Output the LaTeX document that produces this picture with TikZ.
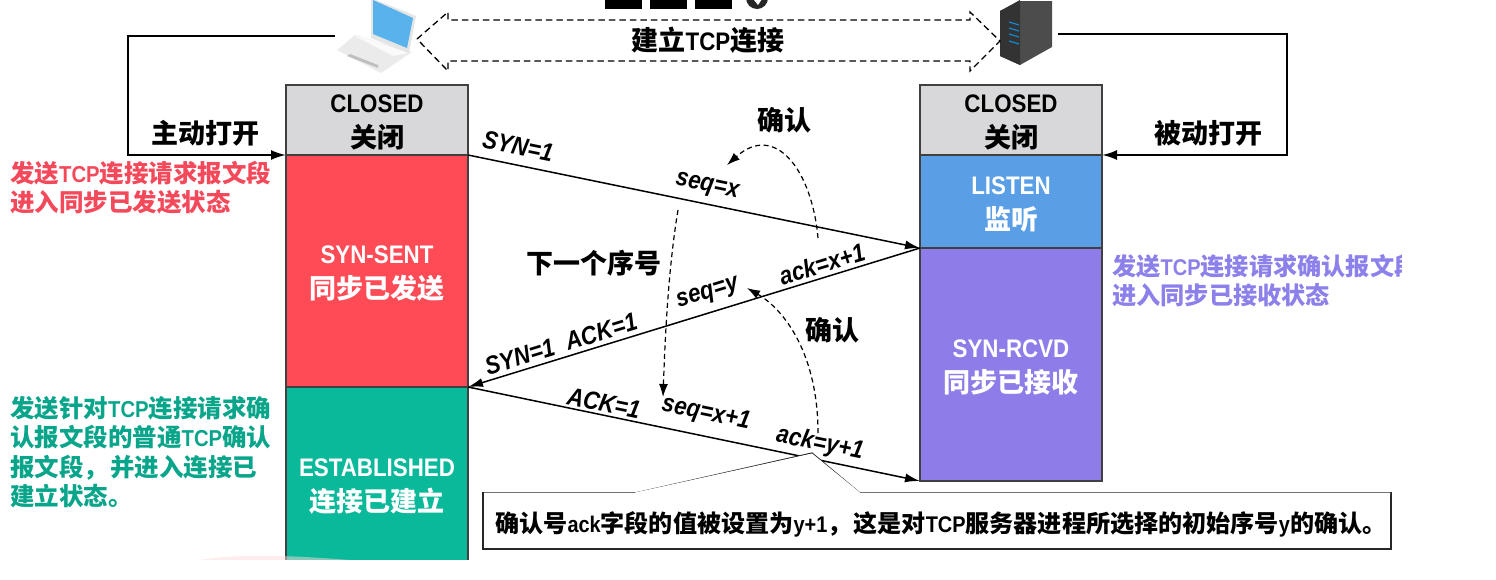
\documentclass[tikz,border=0pt]{standalone}
\usepackage{fontspec}
\setmainfont{Noto Sans CJK SC}
\newfontfamily\latfont[Scale=0.94,FakeStretch=0.88]{Liberation Sans}
\usetikzlibrary{arrows.meta,positioning,calc}
\definecolor{closedgray}{HTML}{D8D8DA}
\definecolor{sentred}{HTML}{FF4B55}
\definecolor{estgreen}{HTML}{0AB89A}
\definecolor{listenblue}{HTML}{5A9FE6}
\definecolor{rcvdpurple}{HTML}{8E7CE8}
\definecolor{notepurple}{HTML}{8C80EA}
\definecolor{notered}{HTML}{F4495A}
\definecolor{screenblue}{HTML}{58B2EC}
\newcommand{\lat}[1]{{\latfont\bfseries #1}}
\tikzset{
  statebox/.style={draw=black!75,line width=1.2pt,minimum width=182pt,inner sep=0pt,outer sep=0pt,align=center,text height=58pt,font=\fontsize{27}{35}\selectfont\bfseries},
  plainlabel/.style={font=\fontsize{27}{29}\selectfont\bfseries,inner sep=0pt},
  notelabel/.style={font=\fontsize{24.5}{29}\selectfont\bfseries,inner sep=0pt,anchor=north west,align=left},
  msglabel/.style={font=\fontsize{27}{28}\selectfont\latfont\bfseries\itshape,inner sep=0pt},
  msgline/.style={line width=1.5pt,-{Latex[length=15pt,width=9pt]}},
  dashline/.style={line width=1.2pt,dash pattern=on 5pt off 3.5pt,-{Latex[length=13pt,width=9pt]}},
  openline/.style={line width=2pt,-{Latex[length=15pt,width=10pt]}}
}
\begin{document}
\begin{tikzpicture}[x=1pt,y=-1pt,>=Latex]
  \useasboundingbox (0,0) rectangle (1496,579);
  \node[statebox,fill=closedgray,minimum height=70pt] (clientclosed) at (377,120) {\lat{CLOSED}\\关闭};
  \node[statebox,fill=sentred,minimum height=232pt,text=white] (clientsent) at (377,271) {\lat{SYN-SENT}\\同步已发送};
  \node[statebox,fill=estgreen,minimum height=193pt,text=white] (clientest) at (377,483.5) {\lat{ESTABLISHED}\\连接已建立};
  \node[statebox,fill=closedgray,minimum height=70pt] (serverclosed) at (1011,120) {\lat{CLOSED}\\关闭};
  \node[statebox,fill=listenblue,minimum height=93pt,text=white] (serverlisten) at (1011,201.5) {\lat{LISTEN}\\监听};
  \node[statebox,fill=rcvdpurple,minimum height=233pt,text=white] (serverrcvd) at (1011,364.5) {\lat{SYN-RCVD}\\同步已接收};
  \fill[white] (0,560) rectangle (1496,590);
  \fill[pink!60,opacity=0.5] (200,560) .. controls (240,553) and (300,556) .. (350,560) -- cycle;

  \fill[black!8] (337,50) -- (355,35) -- (412,52) -- (381,73) -- cycle;
  \fill[black!25] (347,56) -- (350,54) -- (378,65) -- (378,68) -- cycle;
  \fill[black!2] (355,36) -- (372,40) -- (408,53) -- (393,56) -- cycle;
  \fill[black!10] (371,-2) -- (416,16) -- (409,53) -- (371,38) -- cycle;
  \fill[screenblue] (373,0) -- (413,18) -- (407,48) -- (373,34) -- cycle;
  \fill[black!70] (1000,11) -- (1020,1) -- (1052,1) -- (1052,47) -- (1020,65) -- (1000,56) -- cycle;
  \fill[black!80] (1000,11) -- (1020,0) -- (1020,65) -- (1000,56) -- cycle;
  \foreach \ypos in {22,28,34,41}
    \draw[cyan!70!blue,line width=1.2pt] (1009,\ypos) -- (1019,\ypos+3);
  \foreach \xpos in {605,650,695}
    \fill[black] (\xpos,0) rectangle (\xpos+37,9);
  \fill[black!85] (757,-2) circle (11pt);
  \fill[white] (754,0) -- (762,-1) -- (758,5) -- cycle;

  \coordinate (laptopend) at (335,36);
  \coordinate (serverend) at (1058,34);
  \coordinate (leftcorner) at (128,36);
  \coordinate (rightcorner) at (1287,34);
  \draw[openline] (laptopend) -- (leftcorner) -- (leftcorner |- clientsent.north west) -- (clientsent.north west);
  \draw[openline] (serverend) -- (rightcorner) -- (rightcorner |- serverlisten.north east) -- (serverlisten.north east);
  \draw[line width=1.3pt,dash pattern=on 6.5pt off 4pt] (417,39) -- (448,12) -- (448,20) -- (970,20) -- (970,12) -- (1000,41) -- (970,71) -- (970,61) -- (448,61) -- (448,71) -- cycle;
  \node[plainlabel] (linklabel) at (708,40) {建立\lat{TCP}连接};
  \node[plainlabel] (activelabel) at (205,133) {主动打开};
  \node[plainlabel] (passivelabel) at (1208,133) {被动打开};

  \draw[msgline] (clientsent.north east) -- (serverrcvd.north west);
  \draw[msgline] (serverrcvd.north west) -- (clientest.north east);
  \draw[msgline] (clientest.north east) -- (serverrcvd.south west);

  \node[msglabel,rotate=-11.6] (synlabel) at (518,146) {SYN=1};
  \node[msglabel,rotate=-11.6] (seqxlabel) at (707,187) {seq=x};
  \node[msglabel,rotate=17] (ackxlabel) at (822,264) {ack=x+1};
  \node[msglabel,rotate=17] (seqylabel) at (708,294) {seq=y};
  \node[msglabel,rotate=17] (synacklabel) at (561,344) {SYN=1~~ACK=1};
  \node[msglabel,rotate=-11.6] (acklabel) at (604,403) {ACK=1};
  \node[msglabel,rotate=-11.6] (seqx1label) at (706,414) {seq=x+1};
  \node[msglabel,rotate=-11.6] (acky1label) at (820,444) {ack=y+1};

  \coordinate (ackxstart) at (818,238);
  \coordinate (seqxend) at (727,165);
  \coordinate (seqstart) at (678,210);
  \coordinate (seqend) at (663,397);
  \coordinate (ackystart) at (818,433);
  \coordinate (seqyend) at (747,288);
  \draw[dashline] (ackxstart) .. controls (812,170) and (775,122) .. (seqxend);
  \draw[dashline] (seqstart) .. controls (668,270) and (665,340) .. (seqend);
  \draw[dashline] (ackystart) .. controls (818,355) and (785,310) .. (seqyend);
  \node[plainlabel] (confirmtop) at (784,120) {确认};
  \node[plainlabel] (confirmlow) at (832,330) {确认};
  \node[plainlabel] (nextlabel) at (594,263) {下一个序号};

  \node[notelabel,text=notered] (sentnote) at (10,161) {发送\lat{TCP}连接请求报文段\\进入同步已发送状态};
  \begin{scope}
    \clip (1100,240) rectangle (1401,320);
    \node[notelabel,text=notepurple,font=\fontsize{24.2}{29}\selectfont\bfseries] (rcvdnote) at (1112,254) {发送\lat{TCP}连接请求确认报文段\\进入同步已接收状态};
  \end{scope}
  \node[notelabel,text=estgreen!90!black,font=\fontsize{24.5}{29.5}\selectfont\bfseries] (estnote) at (10,396) {发送针对\lat{TCP}连接请求确\\认报文段的普通\lat{TCP}确认\\报文段，\hspace{2pt}并进入连接已\\建立状态。};

  \coordinate (calloutpoint) at (812,453);
  \node[draw=black!85,line width=1.2pt,minimum width=908pt,minimum height=56pt,inner sep=0pt,outer sep=0pt,fill=white] (calloutbox) at (937,521) {};
  \draw[line width=1.2pt,black!85,fill=white] (calloutbox.north west) -- (635,493) -- (calloutpoint) -- (860,493) -- (calloutbox.north east);
  \fill[white] (484,492.5) -- (635,492.5) -- (812,453.5) -- (860,492.5) -- (1390,492.5) -- (1390,495) -- (484,495) -- cycle;
  \node[font=\fontsize{24.1}{29}\selectfont\bfseries,inner sep=0pt,anchor=west] (callouttext) at (495,524) {确认号\lat{ack}字段的值被设置为\lat{y+1}，\hspace{2pt}这是对\lat{TCP}服务器进程所选择的初始序号\lat{y}的确认。};
\end{tikzpicture}
\end{document}
